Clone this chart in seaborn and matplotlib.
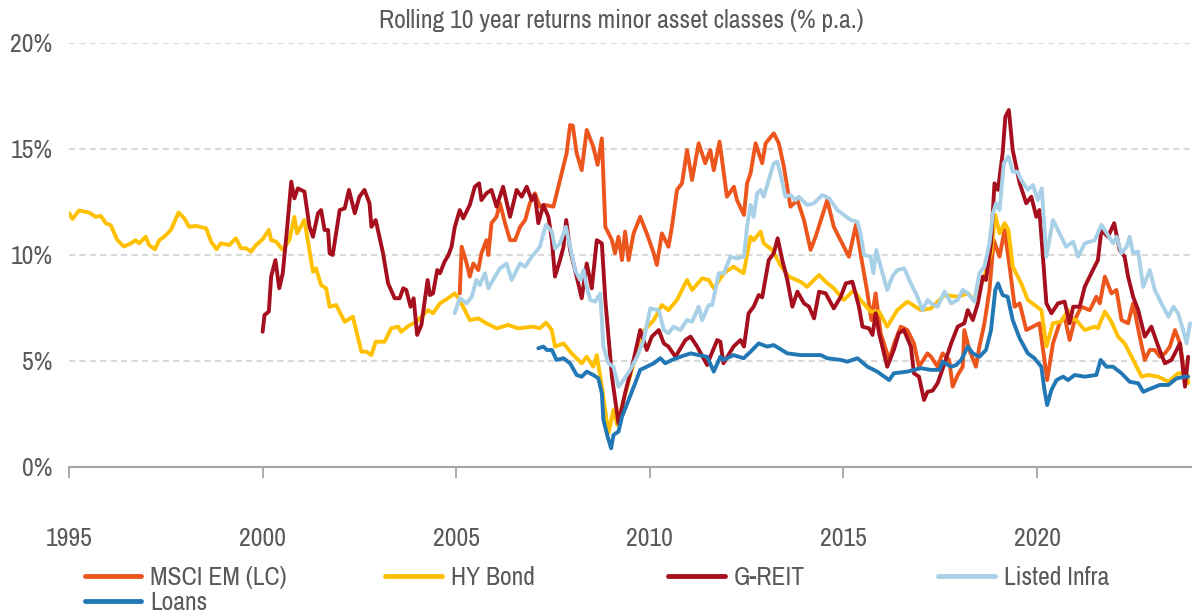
import matplotlib
matplotlib.use("Agg")
import matplotlib.pyplot as plt
from matplotlib.lines import Line2D
from matplotlib.ticker import PercentFormatter
import pandas as pd
import seaborn as sns

# rolling 10 year returns, % p.a.
series_names = ["MSCI EM (LC)", "HY Bond", "G-REIT", "Listed Infra", "Loans"]
colors = ["#EC561C", "#FFC000", "#A50F1E", "#A8D0E6", "#2277B5"]

msci_years = [2005.09, 2005.14, 2005.27, 2005.35, 2005.44, 2005.57, 2005.65, 2005.78, 2005.83, 2005.91,
              2006.04, 2006.13, 2006.26, 2006.39, 2006.52, 2006.65, 2006.78, 2006.90, 2007.03, 2007.16,
              2007.29, 2007.51, 2007.68, 2007.85, 2007.94, 2008.01, 2008.11, 2008.24, 2008.37, 2008.54,
              2008.65, 2008.76, 2008.85, 2009.02, 2009.10, 2009.19, 2009.28, 2009.36, 2009.45, 2009.58,
              2009.75, 2009.92, 2010.10, 2010.18, 2010.31, 2010.48, 2010.57, 2010.70, 2010.83, 2010.96,
              2011.09, 2011.26, 2011.43, 2011.56, 2011.65, 2011.80, 2011.99, 2012.17, 2012.25, 2012.43,
              2012.51, 2012.60, 2012.73, 2012.90, 2012.99, 2013.20, 2013.33, 2013.46, 2013.63, 2013.81,
              2013.98, 2014.15, 2014.28, 2014.50, 2014.58, 2014.75, 2015.01, 2015.14, 2015.32, 2015.44,
              2015.62, 2015.72, 2015.83, 2015.96, 2016.18, 2016.31, 2016.48, 2016.65, 2016.82, 2016.95,
              2017.17, 2017.26, 2017.43, 2017.56, 2017.73, 2017.82, 2017.95, 2018.08, 2018.12, 2018.25,
              2018.42, 2018.51, 2018.64, 2018.77, 2018.88, 2019.03, 2019.16, 2019.29, 2019.42, 2019.55,
              2019.72, 2019.89, 2020.06, 2020.26, 2020.41, 2020.58, 2020.71, 2020.84, 2020.97, 2021.14,
              2021.36, 2021.53, 2021.62, 2021.75, 2021.92, 2022.05, 2022.18, 2022.35, 2022.48, 2022.65,
              2022.78, 2022.91, 2023.04, 2023.17, 2023.30, 2023.43, 2023.56, 2023.69, 2023.83, 2023.90]
msci_vals = [8.19, 10.39, 9.6, 8.98, 9.6, 9.29, 10.08, 10.7, 10.0, 11.5,
             11.8, 12.44, 11.5, 10.7, 10.7, 11.33, 11.65, 12.44, 12.91, 12.28,
             12.36, 12.28, 13.54, 14.8, 16.13, 16.1, 14.8, 14.0, 15.9, 15.1,
             14.25, 15.5, 11.33, 10.7, 10.08, 10.86, 9.76, 11.1, 9.76, 11.02,
             11.8, 11.02, 10.08, 9.53, 11.02, 10.39, 11.33, 13.07, 13.38, 14.95,
             13.54, 15.27, 14.33, 14.95, 14.0, 15.35, 12.75, 13.22, 12.59, 11.89,
             13.38, 13.85, 15.27, 14.33, 15.27, 15.74, 15.27, 14.17, 12.28, 12.59,
             11.65, 10.24, 10.86, 12.12, 12.59, 11.33, 10.39, 9.92, 11.42, 10.08,
             8.19, 6.93, 8.19, 6.31, 5.05, 5.83, 6.62, 6.46, 5.83, 4.73,
             5.36, 5.2, 4.73, 5.36, 5.05, 3.79, 4.34, 4.73, 6.46, 5.52,
             4.73, 5.68, 6.78, 8.35, 10.7, 9.92, 11.18, 9.45, 7.56, 7.72,
             6.46, 6.62, 6.78, 4.1, 5.83, 6.78, 7.09, 5.99, 6.93, 7.56,
             7.4, 8.03, 7.72, 8.98, 8.19, 8.35, 6.93, 6.78, 7.72, 6.15,
             5.05, 5.52, 5.52, 5.2, 5.36, 5.68, 6.46, 5.83, 4.1, 4.26]

hy_years = [1995.00, 1995.09, 1995.26, 1995.52, 1995.69, 1995.82, 1995.95, 1996.08, 1996.25, 1996.42,
            1996.60, 1996.72, 1996.81, 1996.98, 1997.07, 1997.22, 1997.33, 1997.46, 1997.63, 1997.83,
            1997.98, 1998.10, 1998.28, 1998.54, 1998.67, 1998.81, 1998.92, 1999.14, 1999.31, 1999.44,
            1999.57, 1999.70, 1999.83, 2000.00, 2000.16, 2000.22, 2000.35, 2000.52, 2000.69, 2000.82,
            2000.89, 2001.08, 2001.30, 2001.38, 2001.51, 2001.64, 2001.73, 2001.90, 2002.12, 2002.33,
            2002.55, 2002.68, 2002.81, 2002.92, 2003.15, 2003.32, 2003.50, 2003.58, 2003.76, 2003.97,
            2004.27, 2004.40, 2004.58, 2004.79, 2004.96, 2005.09, 2005.35, 2005.57, 2005.78, 2006.04,
            2006.34, 2006.60, 2006.99, 2007.16, 2007.32, 2007.47, 2007.55, 2007.77, 2007.98, 2008.24,
            2008.37, 2008.54, 2008.63, 2008.76, 2008.93, 2009.06, 2009.16, 2009.32, 2009.58, 2009.79,
            2010.10, 2010.31, 2010.48, 2010.70, 2010.96, 2011.09, 2011.35, 2011.52, 2011.65, 2011.91,
            2012.16, 2012.42, 2012.60, 2012.68, 2012.86, 2012.94, 2013.16, 2013.37, 2013.59, 2013.89,
            2014.06, 2014.37, 2014.54, 2014.75, 2015.01, 2015.27, 2015.44, 2015.70, 2015.92, 2016.13,
            2016.39, 2016.65, 2017.00, 2017.26, 2017.61, 2017.95, 2018.21, 2018.38, 2018.64, 2018.81,
            2018.92, 2019.03, 2019.16, 2019.26, 2019.37, 2019.59, 2019.76, 2020.11, 2020.24, 2020.41,
            2020.62, 2020.80, 2020.88, 2021.01, 2021.23, 2021.49, 2021.57, 2021.75, 2021.92, 2022.09,
            2022.26, 2022.44, 2022.57, 2022.70, 2022.87, 2023.13, 2023.39, 2023.64, 2023.86, 2023.90]
hy_vals = [11.98, 11.7, 12.1, 12.0, 11.8, 11.85, 11.5, 11.4, 10.7, 10.4,
           10.55, 10.7, 10.55, 10.86, 10.47, 10.27, 10.7, 10.86, 11.18, 12.0,
           11.73, 11.33, 11.37, 11.26, 10.63, 10.27, 10.55, 10.47, 10.79, 10.32,
           10.32, 10.16, 10.47, 10.74, 11.18, 10.7, 10.63, 10.24, 10.7, 11.8,
           11.02, 11.65, 9.21, 9.37, 8.58, 8.43, 7.56, 7.64, 6.85, 7.09,
           5.44, 5.44, 5.28, 5.91, 5.91, 6.54, 6.62, 6.38, 6.65, 6.85,
           7.4, 7.25, 7.72, 7.96, 8.19, 7.88, 6.93, 7.01, 6.78, 6.54,
           6.7, 6.54, 6.62, 6.54, 6.81, 6.46, 5.68, 5.83, 5.36, 4.89,
           5.2, 4.73, 5.28, 3.79, 1.59, 2.69, 1.98, 3.16, 4.89, 6.31,
           6.93, 7.64, 7.4, 7.88, 8.82, 8.35, 8.9, 8.82, 8.43, 9.14,
           9.45, 9.14, 10.86, 10.7, 11.1, 10.55, 10.24, 9.53, 8.98, 8.74,
           8.5, 9.06, 8.74, 8.43, 7.88, 8.35, 7.88, 7.33, 7.33, 6.62,
           7.4, 7.8, 7.4, 7.48, 8.11, 8.03, 8.19, 7.88, 8.98, 10.08,
           11.89, 11.02, 11.5, 11.18, 9.45, 8.66, 7.88, 7.4, 5.68, 6.78,
           6.85, 7.4, 7.01, 6.93, 6.46, 6.62, 6.55, 7.33, 6.85, 6.15,
           5.83, 5.2, 4.73, 4.26, 4.34, 4.26, 4.02, 4.42, 4.42, 3.95]

reit_years = [2000.00, 2000.05, 2000.16, 2000.22, 2000.33, 2000.43, 2000.52, 2000.62, 2000.74, 2000.82,
              2000.91, 2001.08, 2001.21, 2001.30, 2001.43, 2001.51, 2001.60, 2001.69, 2001.73, 2001.81,
              2001.99, 2002.12, 2002.23, 2002.38, 2002.50, 2002.63, 2002.76, 2002.81, 2002.92, 2003.11,
              2003.24, 2003.41, 2003.54, 2003.63, 2003.71, 2003.82, 2003.90, 2003.99, 2004.10, 2004.26,
              2004.32, 2004.40, 2004.51, 2004.58, 2004.70, 2004.80, 2004.88, 2004.96, 2005.09, 2005.18,
              2005.35, 2005.48, 2005.59, 2005.65, 2005.78, 2005.91, 2006.04, 2006.21, 2006.39, 2006.56,
              2006.69, 2006.82, 2006.95, 2007.03, 2007.12, 2007.25, 2007.38, 2007.47, 2007.55, 2007.68,
              2007.77, 2007.84, 2007.94, 2008.11, 2008.24, 2008.37, 2008.50, 2008.63, 2008.76, 2008.85,
              2009.02, 2009.19, 2009.36, 2009.58, 2009.75, 2009.92, 2010.05, 2010.23, 2010.36, 2010.48,
              2010.66, 2010.92, 2011.05, 2011.22, 2011.48, 2011.56, 2011.74, 2011.82, 2011.90, 2012.16,
              2012.34, 2012.43, 2012.55, 2012.68, 2012.81, 2012.90, 2013.07, 2013.20, 2013.30, 2013.42,
              2013.55, 2013.68, 2013.81, 2013.98, 2014.11, 2014.24, 2014.37, 2014.54, 2014.75, 2014.93,
              2015.06, 2015.23, 2015.40, 2015.49, 2015.66, 2015.75, 2015.83, 2015.92, 2016.13, 2016.30,
              2016.43, 2016.56, 2016.74, 2016.82, 2016.95, 2017.08, 2017.17, 2017.30, 2017.43, 2017.61,
              2017.78, 2017.95, 2018.12, 2018.21, 2018.34, 2018.47, 2018.60, 2018.68, 2018.81, 2018.90,
              2018.99, 2019.11, 2019.18, 2019.27, 2019.37, 2019.55, 2019.72, 2019.85, 2019.98, 2020.06,
              2020.24, 2020.37, 2020.54, 2020.71, 2020.84, 2020.93, 2021.10, 2021.23, 2021.40, 2021.57,
              2021.66, 2021.83, 2021.99, 2022.13, 2022.26, 2022.35, 2022.48, 2022.61, 2022.78, 2022.95,
              2023.13, 2023.30, 2023.47, 2023.69, 2023.82, 2023.90]
reit_vals = [6.38, 7.17, 7.33, 8.98, 9.76, 8.43, 9.14, 11.02, 13.46, 12.67,
             13.14, 12.99, 11.33, 10.86, 11.97, 12.12, 11.18, 11.18, 10.08, 10.0,
             12.12, 12.2, 13.07, 11.97, 12.75, 13.07, 12.44, 11.33, 11.65, 10.08,
             8.66, 7.96, 7.96, 8.43, 8.35, 7.56, 7.96, 6.23, 6.7, 8.82,
             8.11, 8.19, 9.29, 9.14, 9.69, 10.0, 10.4, 11.3, 12.12, 11.73,
             12.36, 13.22, 13.38, 12.59, 12.91, 13.07, 12.28, 13.22, 11.8, 13.07,
             12.75, 13.22, 12.59, 12.83, 11.5, 12.36, 11.8, 10.7, 8.98, 9.76,
             10.39, 11.65, 10.24, 8.98, 7.96, 9.6, 8.43, 10.7, 10.55, 7.88,
             4.26, 2.06, 3.48, 5.05, 6.46, 5.52, 6.15, 6.46, 5.83, 5.68,
             5.2, 5.99, 6.15, 5.68, 4.81, 5.2, 5.99, 5.91, 4.89, 5.68,
             5.99, 5.68, 7.25, 7.56, 8.11, 8.0, 9.76, 10.08, 10.79, 9.76,
             8.82, 7.56, 8.27, 7.72, 7.56, 7.01, 8.27, 8.19, 7.48, 8.03,
             8.66, 8.74, 7.56, 6.62, 6.54, 6.23, 7.25, 6.31, 4.73, 5.52,
             6.31, 6.46, 5.68, 4.42, 4.26, 3.16, 3.55, 3.6, 3.95, 4.89,
             5.83, 6.62, 6.78, 7.4, 6.93, 7.72, 8.98, 8.82, 10.55, 13.38,
             13.07, 14.8, 16.52, 16.84, 14.95, 13.38, 12.44, 12.75, 11.8, 12.12,
             7.72, 7.25, 7.72, 7.8, 6.78, 7.56, 7.56, 8.5, 9.14, 9.76,
             11.18, 10.86, 11.5, 10.24, 9.92, 8.98, 8.03, 7.4, 6.15, 6.62,
             5.68, 4.89, 5.05, 5.83, 3.79, 5.2]

infra_years = [2004.96, 2005.09, 2005.27, 2005.40, 2005.52, 2005.61, 2005.74, 2005.83, 2006.00, 2006.13,
               2006.30, 2006.43, 2006.65, 2006.78, 2006.95, 2007.16, 2007.25, 2007.32, 2007.47, 2007.55,
               2007.68, 2007.83, 2007.94, 2008.07, 2008.20, 2008.29, 2008.37, 2008.46, 2008.59, 2008.72,
               2008.80, 2008.93, 2009.06, 2009.19, 2009.32, 2009.49, 2009.67, 2009.84, 2010.01, 2010.23,
               2010.36, 2010.48, 2010.61, 2010.79, 2010.96, 2011.09, 2011.26, 2011.35, 2011.52, 2011.61,
               2011.78, 2011.91, 2012.08, 2012.25, 2012.43, 2012.51, 2012.60, 2012.68, 2012.77, 2012.86,
               2012.94, 2013.07, 2013.20, 2013.29, 2013.37, 2013.50, 2013.63, 2013.76, 2013.85, 2014.06,
               2014.24, 2014.45, 2014.63, 2014.84, 2015.01, 2015.19, 2015.36, 2015.44, 2015.53, 2015.70,
               2015.77, 2015.85, 2015.96, 2016.13, 2016.26, 2016.39, 2016.57, 2016.74, 2016.91, 2017.04,
               2017.17, 2017.26, 2017.43, 2017.61, 2017.78, 2017.95, 2018.08, 2018.21, 2018.38, 2018.51,
               2018.64, 2018.77, 2018.86, 2018.94, 2019.03, 2019.14, 2019.26, 2019.37, 2019.49, 2019.59,
               2019.76, 2019.89, 2020.02, 2020.12, 2020.24, 2020.41, 2020.58, 2020.75, 2020.93, 2021.06,
               2021.23, 2021.49, 2021.66, 2021.83, 2021.96, 2022.05, 2022.18, 2022.31, 2022.39, 2022.48,
               2022.61, 2022.74, 2022.91, 2023.04, 2023.21, 2023.39, 2023.52, 2023.64, 2023.77, 2023.86,
               2023.95]
infra_vals = [7.25, 7.96, 7.72, 8.03, 8.82, 8.58, 9.14, 8.43, 8.98, 9.37,
              9.6, 8.82, 9.6, 9.45, 9.92, 10.39, 11.02, 11.42, 11.1, 10.31,
              10.55, 11.33, 10.39, 9.29, 8.82, 9.29, 8.5, 7.88, 7.8, 8.19,
              5.68, 4.89, 4.73, 3.79, 4.1, 4.58, 5.2, 5.99, 7.48, 7.4,
              6.46, 6.31, 6.62, 6.46, 6.93, 6.85, 7.56, 6.93, 7.64, 7.64,
              9.14, 9.14, 9.92, 9.84, 9.92, 11.33, 12.36, 11.8, 12.91, 13.07,
              12.75, 13.54, 14.33, 14.4, 13.85, 12.75, 12.83, 12.59, 12.75, 12.36,
              12.44, 12.83, 12.67, 12.12, 11.89, 11.65, 11.57, 11.02, 10.0, 9.92,
              9.14, 10.24, 9.45, 8.35, 8.98, 9.29, 9.37, 8.66, 8.03, 7.4,
              7.88, 7.72, 7.56, 8.27, 7.72, 7.88, 8.35, 8.19, 7.8, 9.14,
              9.45, 10.55, 11.97, 12.44, 12.12, 14.33, 14.64, 13.93, 13.93, 13.54,
              13.07, 13.3, 12.59, 13.14, 9.92, 11.65, 11.02, 10.39, 10.63, 9.92,
              10.55, 10.7, 11.42, 10.94, 10.55, 10.86, 10.08, 10.39, 10.86, 10.08,
              10.16, 8.5, 9.29, 8.35, 7.72, 7.09, 7.56, 7.25, 6.46, 5.83,
              6.78]

loans_years = [2007.12, 2007.25, 2007.34, 2007.47, 2007.59, 2007.77, 2007.94, 2008.11, 2008.24, 2008.37,
               2008.54, 2008.67, 2008.76, 2008.80, 2008.91, 2009.00, 2009.06, 2009.19, 2009.28, 2009.45,
               2009.62, 2009.75, 2009.92, 2010.10, 2010.27, 2010.40, 2010.57, 2010.79, 2011.05, 2011.26,
               2011.48, 2011.65, 2011.82, 2011.90, 2012.16, 2012.42, 2012.60, 2012.81, 2013.03, 2013.20,
               2013.55, 2013.89, 2014.41, 2014.58, 2014.93, 2015.10, 2015.36, 2015.62, 2015.87, 2016.18,
               2016.30, 2016.65, 2017.00, 2017.26, 2017.48, 2017.56, 2017.78, 2017.91, 2018.04, 2018.21,
               2018.34, 2018.51, 2018.68, 2018.81, 2018.92, 2018.99, 2019.11, 2019.24, 2019.37, 2019.55,
               2019.76, 2019.93, 2020.11, 2020.19, 2020.26, 2020.37, 2020.50, 2020.67, 2020.80, 2020.97,
               2021.23, 2021.53, 2021.64, 2021.79, 2021.96, 2022.18, 2022.39, 2022.61, 2022.74, 2022.95,
               2023.17, 2023.39, 2023.60, 2023.82, 2023.90]
loans_vals = [5.6, 5.68, 5.52, 5.52, 5.05, 5.13, 4.89, 4.34, 4.26, 4.5,
              4.34, 4.18, 3.48, 2.22, 1.43, 0.88, 1.51, 1.67, 2.37, 3.16,
              3.95, 4.58, 4.73, 4.89, 5.13, 4.89, 5.05, 5.2, 5.36, 5.28,
              5.2, 4.5, 5.2, 5.05, 5.28, 5.13, 5.44, 5.83, 5.68, 5.75,
              5.36, 5.28, 5.28, 5.13, 5.05, 4.97, 5.13, 4.73, 4.5, 4.1,
              4.42, 4.5, 4.66, 4.58, 4.58, 4.97, 4.73, 4.81, 5.05, 5.68,
              5.36, 5.2, 5.52, 6.46, 8.35, 8.66, 8.11, 8.03, 6.93, 6.07,
              5.36, 5.13, 4.73, 3.63, 2.92, 3.63, 4.1, 4.26, 4.1, 4.34,
              4.26, 4.34, 5.05, 4.73, 4.73, 4.42, 4.02, 3.95, 3.55, 3.71,
              3.87, 3.87, 4.18, 4.26, 4.26]

year_ticks = [1995, 2000, 2005, 2010, 2015, 2020]
pct_ticks = [0, 5, 10, 15, 20]

all_years = [msci_years, hy_years, reit_years, infra_years, loans_years]
all_vals = [msci_vals, hy_vals, reit_vals, infra_vals, loans_vals]

frames = []
for name, yrs, vals in zip(series_names, all_years, all_vals):
    frames.append(pd.DataFrame({"year": yrs, "ret": vals, "series": name}))
df = pd.concat(frames, ignore_index=True)

sns.set_theme(style="white")
# narrow face, close to the Arial Narrow look of the original
plt.rcParams["font.family"] = ["Archivo Narrow", "Liberation Sans", "DejaVu Sans"]
text_col = "#595959"
axis_col = "#A6A6A6"
fs = 18.5

fig = plt.figure(figsize=(11.92, 6.16), dpi=100)
ax = fig.add_axes([69 / 1192, 1 - 467 / 616, 1123 / 1192, 424 / 616])

sns.lineplot(data=df, x="year", y="ret", hue="series", hue_order=series_names,
             palette=colors, estimator=None, sort=False, linewidth=2.8,
             legend=False, ax=ax)

ax.set_xlim(1995, 2024.0)
ax.set_ylim(0, 20)
ax.set_xticks(year_ticks)
ax.set_yticks(pct_ticks)
ax.yaxis.set_major_formatter(PercentFormatter(xmax=100, decimals=0))
ax.set_xlabel("")
ax.set_ylabel("")

ax.yaxis.grid(True, color="#D9D9D9", linewidth=1.5, linestyle=(0, (3, 2)))
ax.xaxis.grid(False)
ax.set_axisbelow(True)
for side in ["top", "right", "left"]:
    ax.spines[side].set_visible(False)
ax.spines["bottom"].set_color(axis_col)
ax.spines["bottom"].set_linewidth(1.5)

ax.tick_params(axis="x", direction="out", length=8, width=1.3, color=axis_col,
               pad=35, labelsize=fs, labelcolor=text_col, bottom=True)
ax.tick_params(axis="y", length=0, pad=12, labelsize=fs, labelcolor=text_col)

fig.text(0.521, 1 - 20 / 616, "Rolling 10 year returns minor asset classes (% p.a.)",
         ha="center", va="center", fontsize=fs, color=text_col)

# legend: first column (MSCI EM over Loans), then the other three in one row
leg_kw = dict(frameon=False, fontsize=fs, handlelength=2.2, handletextpad=0.35,
              labelspacing=0.05, borderpad=0, borderaxespad=0, loc="upper left")
first = [0, 4]
rest = [1, 2, 3]
leg1 = ax.legend([Line2D([0], [0], color=colors[i], linewidth=3.5) for i in first],
                 [series_names[i] for i in first], ncol=1,
                 bbox_to_anchor=(0.0142, -0.234), **leg_kw)
ax.add_artist(leg1)
leg2 = ax.legend([Line2D([0], [0], color=colors[i], linewidth=3.5) for i in rest],
                 [series_names[i] for i in rest], ncol=3, columnspacing=5.2,
                 bbox_to_anchor=(0.2814, -0.234), **leg_kw)
for leg in [leg1, leg2]:
    for t in leg.get_texts():
        t.set_color(text_col)

fig.savefig("out.png", dpi=100)
